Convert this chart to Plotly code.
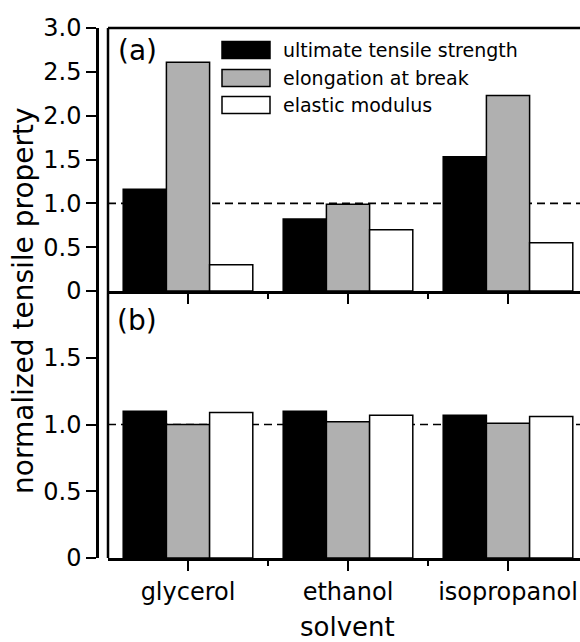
import plotly.graph_objects as go

solvents = ["glycerol", "ethanol", "isopropanol"]
series_names = ["ultimate tensile strength", "elongation at break", "elastic modulus"]
panel_a = {
    "ultimate tensile strength": [1.16, 0.82, 1.53],
    "elongation at break": [2.61, 0.99, 2.23],
    "elastic modulus": [0.30, 0.70, 0.55],
}
panel_b = {
    "ultimate tensile strength": [1.10, 1.10, 1.07],
    "elongation at break": [1.00, 1.02, 1.01],
    "elastic modulus": [1.09, 1.07, 1.06],
}
fills = {"ultimate tensile strength": "#000000", "elongation at break": "#b0b0b0", "elastic modulus": "#ffffff"}
ticks_a = [0, 0.5, 1.0, 1.5, 2.0, 2.5, 3.0]
ticks_a_text = ["0", "0.5", "1.0", "1.5", "2.0", "2.5", "3.0"]
ticks_b = [0, 0.5, 1.0, 1.5]
ticks_b_text = ["0", "0.5", "1.0", "1.5"]

W, H = 580, 642
L, R, T, B = 97, 0, 28, 84
PW, PH = W - L - R, H - T - B
FONT = "DejaVu Sans, Liberation Sans, Arial, sans-serif"

def px_x(p):
    return (p - L) / PW

def px_y(p):
    return (H - B - p) / PH

xpos = list(range(len(solvents)))
fig = go.Figure()
for name in series_names:
    fig.add_trace(go.Bar(x=xpos, y=panel_a[name], name=name, xaxis="x", yaxis="y",
                         marker=dict(color=fills[name], line=dict(color="black", width=1.5)),
                         showlegend=False, offsetgroup=name))
    fig.add_trace(go.Bar(x=xpos, y=panel_b[name], name=name, xaxis="x2", yaxis="y2",
                         marker=dict(color=fills[name], line=dict(color="black", width=1.5)),
                         showlegend=False, offsetgroup=name))

xdom = [px_x(108), 1]
split = px_y(291)
common_x = dict(domain=xdom, range=[-0.5, 2.45], showline=True, linecolor="black", linewidth=2.5,
                ticks="outside", ticklen=10, tickwidth=2, tickcolor="black",
                tickvals=xpos, ticktext=solvents, showgrid=False, zeroline=False,
                minor=dict(tickmode="array", tickvals=[0.5, 1.5], ticks="outside", ticklen=5,
                           tickwidth=2, tickcolor="black"),
                tickfont=dict(family=FONT, size=24, color="black"))
common_y = dict(anchor="free", position=0, showline=True, linecolor="black", linewidth=2.5,
                ticks="outside", ticklen=10, tickwidth=2, tickcolor="black", showgrid=False,
                zeroline=False, tickfont=dict(family=FONT, size=24, color="black"))

fig.update_layout(
    width=W, height=H, margin=dict(l=L, r=R, t=T, b=B),
    plot_bgcolor="white", paper_bgcolor="white",
    barmode="group", bargap=0.19, bargroupgap=0,
    xaxis=dict(common_x, anchor="y", showticklabels=False),
    xaxis2=dict(common_x, anchor="y2", matches="x"),
    yaxis=dict(common_y, domain=[split, 1], range=[0, 3.0], tickvals=ticks_a, ticktext=ticks_a_text),
    yaxis2=dict(common_y, domain=[0, split], range=[0, 2.0], tickvals=ticks_b, ticktext=ticks_b_text),
)

shapes = []
# frame lines
shapes.append(dict(type="line", xref="paper", yref="paper", x0=xdom[0], x1=xdom[0], y0=0, y1=1,
                   line=dict(color="black", width=2.5)))
shapes.append(dict(type="line", xref="paper", yref="paper", x0=xdom[0], x1=1, y0=1, y1=1,
                   line=dict(color="black", width=2.5)))
# reference lines at 1.0
for ya, xa in (("y", "x"), ("y2", "x2")):
    shapes.append(dict(type="line", xref=xa + " domain", yref=ya, x0=0, x1=1, y0=1, y1=1,
                       line=dict(color="black", width=1.6, dash="8px,5px"), layer="below"))
# legend boxes
legend_rows = [50, 78, 105]
for name, yc in zip(series_names, legend_rows):
    shapes.append(dict(type="rect", xref="paper", yref="paper",
                       x0=px_x(222), x1=px_x(270), y0=px_y(yc - 8.5), y1=px_y(yc + 8.5),
                       fillcolor=fills[name], line=dict(color="black", width=1.5)))
fig.update_layout(shapes=shapes)

ann = []
for name, yc in zip(series_names, legend_rows):
    ann.append(dict(text=name, xref="paper", yref="paper", x=px_x(281), y=px_y(yc),
                    xanchor="left", yanchor="middle", showarrow=False,
                    font=dict(family=FONT, size=19, color="black")))
ann.append(dict(text="(a)", xref="paper", yref="paper", x=px_x(137), y=px_y(50),
                xanchor="center", yanchor="middle", showarrow=False,
                font=dict(family=FONT, size=28, color="black")))
ann.append(dict(text="(b)", xref="paper", yref="paper", x=px_x(137), y=px_y(320),
                xanchor="center", yanchor="middle", showarrow=False,
                font=dict(family=FONT, size=28, color="black")))
ann.append(dict(text="normalized tensile property", xref="paper", yref="paper", x=px_x(23), y=px_y(301),
                xanchor="center", yanchor="middle", showarrow=False, textangle=-90,
                font=dict(family=FONT, size=28, color="black")))
ann.append(dict(text="solvent", xref="paper", yref="paper", x=px_x(347), y=px_y(627),
                xanchor="center", yanchor="middle", showarrow=False,
                font=dict(family=FONT, size=26, color="black")))
fig.update_layout(annotations=ann)

fig.write_html("out.html")
